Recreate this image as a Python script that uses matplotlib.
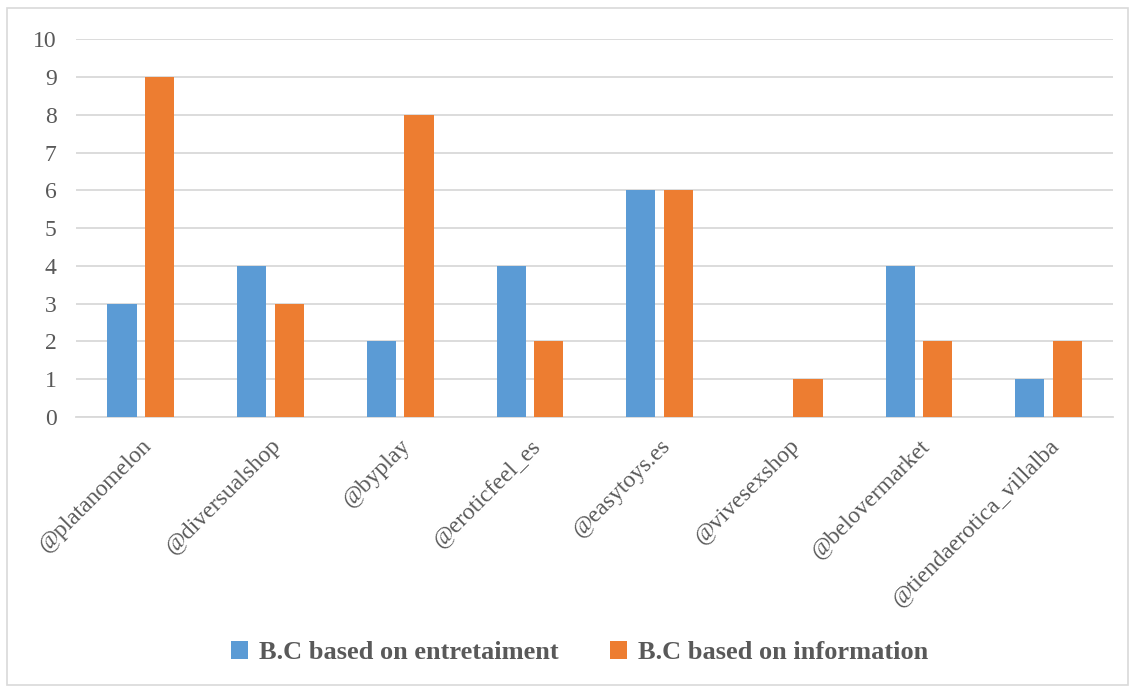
import numpy as np
import matplotlib.pyplot as plt
from matplotlib.patches import Rectangle

accounts = ["@platanomelon", "@diversualshop", "@byplay", "@eroticfeel_es",
            "@easytoys.es", "@vivesexshop", "@belovermarket", "@tiendaerotica_villalba"]
entertainment = [3, 4, 2, 4, 6, 0, 4, 1]
information = [9, 3, 8, 2, 6, 1, 2, 2]
series_names = ["B.C based on entretaiment", "B.C based on information"]

plt.rcParams['font.family'] = ['Liberation Serif', 'DejaVu Serif']
txt = "#595959"

fig = plt.figure(figsize=(11.35, 6.87), dpi=100)
ax = fig.add_axes([0.067, 0.393, 0.914, 0.55])

x = np.arange(len(accounts))
w = 0.225
ax.bar(x - 0.145, entertainment, w, color="#5B9BD5", label=series_names[0], zorder=3)
ax.bar(x + 0.145, information, w, color="#ED7D31", label=series_names[1], zorder=3)

ax.set_xlim(-0.5, len(accounts) - 0.5)
ax.set_ylim(0, 10)
ax.set_yticks(range(0, 11))
ax.yaxis.grid(True, color="#D9D9D9", linewidth=1.3, zorder=0)
ax.set_axisbelow(True)
for s in ["top", "right", "left"]:
    ax.spines[s].set_visible(False)
ax.spines["bottom"].set_color("#D9D9D9")
ax.spines["bottom"].set_linewidth(1.3)
ax.tick_params(length=0, labelsize=17, labelcolor=txt)
ax.tick_params(axis="y", pad=14)
ax.set_xticks(x)
ax.set_xticklabels(accounts, rotation=45, ha="right", rotation_mode="anchor")
ax.tick_params(axis="x", pad=13)

leg = fig.legend(loc="center", bbox_to_anchor=(0.5106, 0.05), ncol=2, frameon=False,
                 prop={"weight": "bold", "size": 19}, handlelength=0.65, handleheight=0.65,
                 columnspacing=1.95, handletextpad=0.4)
for t in leg.get_texts():
    t.set_color(txt)

fig.patches.append(Rectangle((7 / 1135, 2 / 687), 1 - 14 / 1135, 1 - 10 / 687,
                             transform=fig.transFigure, fill=False,
                             edgecolor="#D9D9D9", linewidth=1.2))

fig.savefig("out.png", dpi=100)
